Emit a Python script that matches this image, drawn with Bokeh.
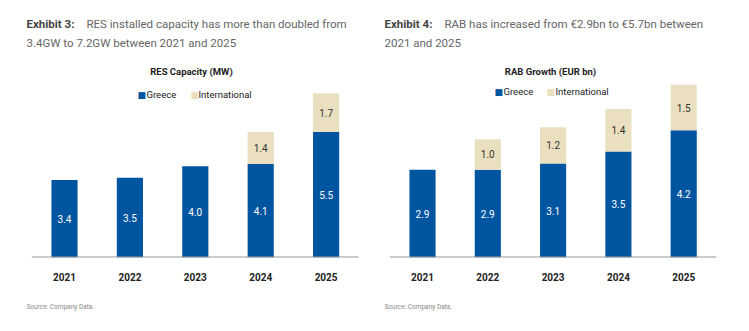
from bokeh.plotting import figure
from bokeh.layouts import row
from bokeh.models import Label, Range1d, ColumnDataSource, Title, FixedTicker
from bokeh.core.properties import value
from bokeh.embed import file_html
from bokeh.resources import INLINE

years = ["2021", "2022", "2023", "2024", "2025"]
res_greece = [3.4, 3.5, 4.0, 4.1, 5.5]
res_intl = [0.0, 0.0, 0.0, 1.4, 1.7]
rab_greece = [2.9, 2.9, 3.1, 3.5, 4.2]
rab_intl = [0.0, 1.0, 1.2, 1.4, 1.5]

BLUE = "#0055A0"
BEIGE = "#EAE0C0"
FONT = "Roboto"


def make_chart(width, first_cx, step, pxunit, greece, intl, header_bold, header_line1,
               header_line2, hx, hx2, title, title_cx, leg):
    fb = 74
    bottom = 331 - fb
    yend = bottom / pxunit
    xstart = -first_cx / step
    xend = xstart + width / step
    p = figure(width=width, height=331, x_range=Range1d(xstart, xend), y_range=Range1d(0, yend),
               output_backend="svg", toolbar_location=None, y_axis_type=None,
               min_border_left=0, min_border_right=0, min_border_top=0, min_border_bottom=fb)
    p.outline_line_color = None
    p.xgrid.visible = False
    p.ygrid.visible = False
    p.background_fill_color = "white"
    p.border_fill_color = "white"

    idx = list(range(len(years)))
    src = ColumnDataSource(dict(i=idx, greece=greece, intl=intl))
    p.vbar_stack(["greece", "intl"], x="i", width=0.4, source=src,
                 color=[BLUE, BEIGE], line_color=None)

    # baseline
    p.segment(x0=[-0.5], x1=[len(years) - 0.5], y0=[0], y1=[0],
              line_color="#999999", line_width=2)

    # value labels
    p.text(x=idx, y=[g / 2 for g in greece], text=[f"{g:.1f}" for g in greece],
           text_color="white", text_font=value(FONT), text_font_size="10px",
           text_align="center", text_baseline="middle")
    ii = [i for i, v in zip(idx, intl) if v > 0]
    ig = [g + v / 2 for g, v in zip(greece, intl) if v > 0]
    it = [f"{v:.1f}" for v in intl if v > 0]
    p.text(x=ii, y=ig, text=it, text_color="#333333", text_font=value(FONT),
           text_font_size="10px", text_align="center", text_baseline="middle")

    ax = p.xaxis[0]
    ax.ticker = FixedTicker(ticks=idx)
    ax.major_label_overrides = {i: y for i, y in zip(idx, years)}
    ax.axis_line_color = None
    ax.major_tick_line_color = None
    ax.minor_tick_line_color = None
    ax.major_label_text_font = FONT
    ax.major_label_text_font_style = "bold"
    ax.major_label_text_font_size = "10px"
    ax.major_label_text_color = "#222222"
    ax.major_label_standoff = 9

    def lab(x, y, text, size, color, style="normal", align="left"):
        p.add_layout(Label(x=x, y=bottom - y, x_units="screen", y_units="screen",
                           text=text, text_font=FONT, text_font_size=size,
                           text_color=color, text_font_style=style,
                           text_align=align, text_baseline="middle"))

    lab(hx, 23, header_bold, "11.5px", "#444444", "bold")
    lab(hx2, 23, header_line1, "11.5px", "#666666")
    lab(hx, 42, header_line2, "11.5px", "#666666")
    lab(title_cx, 71, title, "9.5px", "#222222", "bold", "center")

    p.add_layout(Title(text="Source: Company Data.", align="left", offset=hx,
                       text_font=FONT, text_font_size="6.5px", text_color="#888888",
                       text_font_style="normal", standoff=35), "below")

    # legend
    (gx, gtx, ix, itx, ly) = leg
    for sx, col in ((gx, BLUE), (ix, BEIGE)):
        p.add_layout(Label(x=sx, y=bottom - ly, x_units="screen", y_units="screen",
                           text="\u25A0", text_font="DejaVu Sans", text_font_size="9px",
                           text_color=col, text_align="left", text_baseline="middle"))
    lab(gtx, ly, "Greece", "9.5px", "#222222")
    lab(itx, ly, "International", "9.5px", "#222222")
    return p


left = make_chart(374, 64, 65.4, 22.8, res_greece, res_intl, "Exhibit 3:",
                  "RES installed capacity has more than doubled from",
                  "3.4GW to 7.2GW between 2021 and 2025",
                  26, 86, "RES Capacity (MW)", 191,
                  (137, 146, 190, 198, 94))
right = make_chart(375, 422 - 374, 65.3, 30.3, rab_greece, rab_intl, "Exhibit 4:",
                   "RAB has increased from \u20ac2.9bn to \u20ac5.7bn between",
                   "2021 and 2025",
                   384 - 374, 444 - 374, "RAB Growth (EUR bn)", 550 - 374,
                   (494 - 374, 503 - 374, 546 - 374, 555 - 374, 91))

layout = row(left, right)
open("out.html", "w").write(file_html(layout, INLINE))
